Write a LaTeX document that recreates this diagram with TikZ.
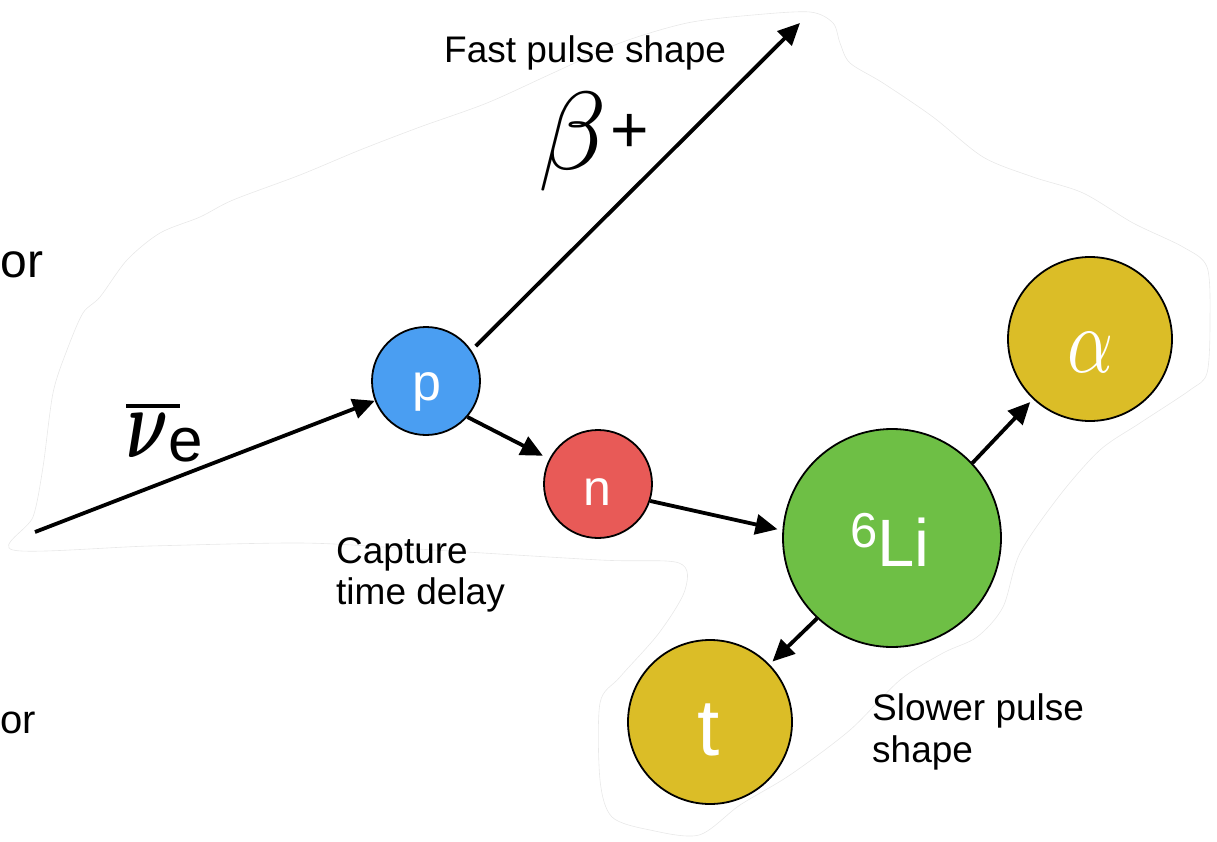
\documentclass[tikz,border=0pt]{standalone}
\usepackage{bm}
\usepackage{fontspec}
\setmainfont{Liberation Sans}
\usetikzlibrary{arrows.meta}
\definecolor{pblue}{HTML}{4A9EF2}
\definecolor{nred}{HTML}{E85A57}
\definecolor{ligreen}{HTML}{6EBF45}
\definecolor{gold}{HTML}{DBBD27}
\tikzset{
  particle/.style={circle, draw=black, line width=1.8pt, inner sep=0pt},
  arr/.style={line width=3.8pt, -{Triangle[length=22pt,width=20pt]}},
  txt/.style={inner sep=0pt, text=black},
  wtxt/.style={inner sep=0pt, text=white},
  blob/.style={draw=black!9, line width=0.6pt}
}
\begin{document}
\begin{tikzpicture}[x=1pt,y=-1pt]
\useasboundingbox (0,0) rectangle (1217,842);
% faint outline
\draw[blob] plot[smooth cycle, tension=0.5] coordinates {
 (13,550) (33,517) (43,467) (53,393) (67,350) (83,313) (100,297) (127,260)
 (160,233) (200,217) (233,200) (300,175) (360,150) (420,127) (487,103)
 (553,73) (620,43) (687,23) (753,15) (810,12) (833,23) (840,43) (850,63)
 (883,83) (933,117) (983,157) (1033,177) (1083,193) (1133,223) (1183,247)
 (1207,267) (1210,320) (1207,373) (1190,390) (1140,423) (1100,450)
 (1060,495) (1020,553) (1003,607) (977,637) (943,653) (900,680) (850,730)
 (790,775) (740,805) (699,835) (650,830) (612,817) (600,780) (600,703)
 (620,677) (659,633) (685,590) (679,563) (600,560) (400,548) (300,543)
 (150,546)};
% particles
\node[particle, fill=pblue, minimum size=108pt] (p) at (426,381) {};
\node[particle, fill=nred, minimum size=108pt] (n) at (598,484) {};
\node[particle, fill=ligreen, minimum size=218pt] (Li) at (892,538) {};
\node[particle, fill=gold, minimum size=164pt] (alpha) at (1090,339) {};
\node[particle, fill=gold, minimum size=164pt] (t) at (710,722) {};
% particle labels
\node[wtxt, anchor=base] (plabel) at (427,400) {\fontsize{52}{52}\selectfont p};
\node[wtxt, anchor=base] (nlabel) at (597,505) {\fontsize{50}{50}\selectfont n};
\node[wtxt, anchor=base] (tlabel) at (709,755) {\fontsize{80}{80}\selectfont t};
\node[wtxt, anchor=base west] (lilabel) at (850,566) {{\fontsize{49}{49}\selectfont\raisebox{19pt}{6}}{\fontsize{67}{67}\selectfont Li}};
\node[wtxt] (alphalabel) at (1090,352) {\resizebox{46pt}{40pt}{$\alpha$}};
% connectors
\coordinate (nustart) at (35,532);
\coordinate (betaend) at (800,23);
\draw[arr] (nustart) -- (p);
\draw[arr, shorten <=6pt] (p.34) -- (betaend);
\draw[arr, shorten >=7pt] (p.-41) -- (n);
\draw[arr, shorten >=5pt] (n.-18) -- (Li.176);
\draw[arr, shorten >=4pt] (Li.43) -- (alpha);
\draw[arr, shorten >=4pt] (Li.227) -- (t);
% labels
\node[txt, anchor=base west] (nulabel) at (126,457) {\rlap{\rule[49pt]{54pt}{4pt}}\resizebox{42pt}{44pt}{$\bm{\nu}$}\raisebox{-4pt}{\fontsize{62}{62}\selectfont e}};
\node[txt, anchor=base west] (betalabel) at (538,170) {\resizebox{!}{77pt}{$\beta$}\hspace{4pt}\raisebox{17pt}{\fontsize{66}{66}\selectfont +}};
\node[txt, anchor=base west] (fast) at (444,63) {\fontsize{37}{40}\selectfont Fast pulse shape};
\node[txt, anchor=base west] (capture1) at (336,563) {\fontsize{37}{40}\selectfont Capture};
\node[txt, anchor=base west] (capture2) at (336,604) {\fontsize{37}{40}\selectfont time delay};
\node[txt, anchor=base west] (slower1) at (872,720) {\fontsize{37}{40}\selectfont Slower pulse};
\node[txt, anchor=base west] (slower2) at (872,762) {\fontsize{37}{40}\selectfont shape};
\node[txt, anchor=base west] (orleft) at (0.5,277) {\fontsize{48}{48}\selectfont or};
\node[txt, anchor=base west] (forleft) at (0.5,733) {\fontsize{40}{40}\selectfont or};
\end{tikzpicture}
\end{document}
